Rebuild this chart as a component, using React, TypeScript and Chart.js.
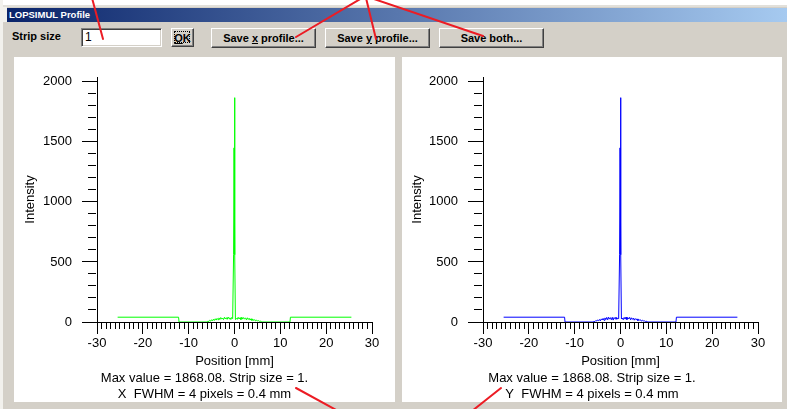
import React, { useEffect, useRef } from 'react';
import { Chart, registerables } from 'chart.js';

Chart.register(...registerables);

// Position along the strip, in mm (pixel size 0.1 mm)
const positionsMm = [
  -25.5, -12.2, -12.1,
  -6.0, -5.8, -5.6, -5.4, -5.2, -5.0, -4.8, -4.6, -4.4, -4.2, -4.0, -3.8, -3.6, -3.4, -3.2,
  -3.0, -2.8, -2.6, -2.4, -2.2, -2.0, -1.8, -1.6, -1.4, -1.2, -1.0, -0.8, -0.6, -0.4,
  -0.2, -0.1, 0.0, 0.1, 0.2,
  0.4, 0.6, 0.8, 1.0, 1.2, 1.4, 1.6, 1.8, 2.0, 2.2, 2.4, 2.6, 2.8, 3.0, 3.2,
  3.4, 3.6, 3.8, 4.0, 4.2, 4.4, 4.6, 4.8, 5.0, 5.2, 5.4, 5.6, 5.8, 6.0,
  12.1, 12.2, 25.5,
];

// X profile intensity
const xProfile = [
  40, 40, 0,
  0, 8, 4, 14, 7, 19, 10, 23, 13, 27, 16, 30, 19, 34, 21,
  37, 24, 33, 20, 39, 25, 36, 22, 41, 27, 35, 21, 38, 28,
  560, 1450, 1868, 560, 20,
  30, 22, 39, 25, 36, 20, 40, 24, 37, 26, 33, 18, 35, 21, 31,
  16, 27, 13, 24, 12, 20, 9, 16, 8, 12, 5, 8, 3, 0,
  0, 40, 40,
];

// Y profile intensity
const yProfile = [
  40, 40, 0,
  0, 6, 3, 12, 8, 17, 11, 21, 9, 26, 17, 30, 14, 34, 20,
  38, 18, 40, 24, 36, 19, 39, 16, 37, 26, 41, 22, 33, 28,
  560, 1450, 1868, 560, 25,
  33, 19, 38, 24, 41, 20, 36, 25, 39, 18, 35, 22, 32, 15, 29,
  19, 26, 11, 22, 13, 18, 7, 14, 9, 10, 4, 7, 2, 0,
  0, 40, 40,
];

const xAxisRange = [-30, 30];
const yAxisRange = [0, 2040];
const xMajorEvery = 10;
const yMajorEvery = 500;

const xInfo = ['Max value = 1868.08. Strip size = 1.', 'X  FWHM = 4 pixels = 0.4 mm'];
const yInfo = ['Max value = 1868.08. Strip size = 1.', 'Y  FWHM = 4 pixels = 0.4 mm'];

const FONT = "'Liberation Sans', Arial, sans-serif";

type ChartProps = {
  values: number[];
  color: string;
  info: string[];
  width: number;
  height: number;
  axisWidth: number;
  padRight: number;
  yTitlePad: number;
};

function ProfileChart({ values, color, info, width, height, axisWidth, padRight, yTitlePad }: ChartProps) {
  const ref = useRef<HTMLCanvasElement>(null);
  useEffect(() => {
    const font = { family: FONT, size: 13, weight: 'normal' as const };
    const chart = new Chart(ref.current!, {
      type: 'line',
      data: {
        datasets: [
          {
            data: positionsMm.map((x, i) => ({ x, y: values[i] })),
            borderColor: color,
            borderWidth: 1,
            pointRadius: 0,
            fill: false,
            tension: 0,
          },
        ],
      },
      options: {
        responsive: false,
        animation: false,
        events: [],
        layout: { padding: { left: 0, top: 20, right: 0, bottom: 0 } },
        plugins: {
          legend: { display: false },
          tooltip: { enabled: false },
          title: {
            display: true,
            position: 'bottom',
            text: info,
            color: '#000',
            font: { ...font, lineHeight: '16px' },
            padding: { top: 0, bottom: 0 },
          },
        },
        scales: {
          x: {
            type: 'linear',
            min: xAxisRange[0],
            max: xAxisRange[1],
            z: 1,
            border: { display: true, color: '#000', width: 1 },
            grid: {
              drawOnChartArea: false,
              drawTicks: true,
              tickLength: 12,
              tickColor: '#000',
              tickWidth: 1,
              tickBorderDash: (ctx: any) =>
                ctx.tick && Math.abs(ctx.tick.value) % xMajorEvery !== 0 ? [6, 100] : [],
            },
            ticks: {
              stepSize: 1,
              autoSkip: false,
              maxRotation: 0,
              minRotation: 0,
              padding: 2,
              color: '#000',
              font,
              callback: (v: any) => (Number(v) % xMajorEvery === 0 ? String(Number(v)) : ''),
            },
            title: {
              display: true,
              text: 'Position [mm]',
              color: '#000',
              font: { ...font, lineHeight: '16px' },
              padding: { top: 0, bottom: 1 },
            },
            afterFit: (s: any) => {
              s.height = 48;
            },
          },
          y: {
            type: 'linear',
            min: yAxisRange[0],
            max: yAxisRange[1],
            z: 1,
            border: { display: true, color: '#000', width: 1 },
            grid: {
              drawOnChartArea: false,
              drawTicks: true,
              tickLength: 15,
              tickColor: '#000',
              tickWidth: 1,
              tickBorderDash: (ctx: any) =>
                ctx.tick && ctx.tick.value % yMajorEvery !== 0 ? [8, 6] : [],
              tickBorderDashOffset: (ctx: any) =>
                ctx.tick && ctx.tick.value % yMajorEvery !== 0 ? 8 : 0,
            },
            ticks: {
              stepSize: 100,
              includeBounds: false,
              autoSkip: false,
              padding: 10,
              color: '#000',
              font,
              callback: (v: any) => (Number(v) % yMajorEvery === 0 ? String(Number(v)) : ''),
            },
            title: {
              display: true,
              text: 'Intensity',
              color: '#000',
              font,
              padding: { top: yTitlePad, bottom: 0 },
            },
            afterFit: (s: any) => {
              s.width = axisWidth;
            },
          },
          // empty right-hand spacer axis so the info lines stay centred on the panel
          spacer: {
            type: 'linear',
            position: 'right',
            display: true,
            min: yAxisRange[0],
            max: yAxisRange[1],
            grid: { display: false, drawTicks: false },
            border: { display: false },
            ticks: { display: false },
            title: { display: false },
            afterFit: (s: any) => {
              s.width = padRight;
            },
          },
        },
      },
    } as any);
    return () => chart.destroy();
  }, []);
  return <canvas ref={ref} width={width} height={height} style={{ display: 'block', width, height }} />;
}

const btn: React.CSSProperties = {
  position: 'absolute',
  top: 28,
  height: 20,
  boxSizing: 'border-box',
  background: '#D4D0C8',
  borderTop: '1px solid #fff',
  borderLeft: '1px solid #fff',
  borderRight: '1px solid #404040',
  borderBottom: '1px solid #404040',
  boxShadow: 'inset -1px -1px #808080',
  fontSize: 11,
  fontWeight: 'bold',
  color: '#000',
  display: 'flex',
  alignItems: 'center',
  justifyContent: 'center',
  whiteSpace: 'pre',
};

export default function App() {
  return (
    <div
      style={{
        position: 'fixed',
        left: 0,
        top: 0,
        width: 787,
        height: 409,
        background: '#D4D0C8',
        overflow: 'hidden',
        fontFamily: FONT,
      }}
    >
      <div style={{ position: 'absolute', left: 0, top: 0, width: 787, height: 5, background: '#fff' }} />
      <div style={{ position: 'absolute', left: 2, top: 5, width: 785, height: 2, background: '#E2E0DA' }} />
      <div style={{ position: 'absolute', left: 0, top: 0, width: 3, height: 409, background: '#F2F1ED' }} />
      <div style={{ position: 'absolute', left: 3, top: 7, width: 4, height: 15, background: '#F2F1ED' }} />
      <div
        style={{
          position: 'absolute',
          left: 7,
          top: 8,
          width: 780,
          height: 14,
          background: 'linear-gradient(to right, #0A246A, #A6CAF0)',
          color: '#fff',
          fontWeight: 'bold',
          fontSize: 9.5,
          lineHeight: '14px',
          paddingLeft: 2,
          boxSizing: 'border-box',
        }}
      >
        LOPSIMUL Profile
      </div>

      <div style={{ position: 'absolute', left: 12, top: 29, fontSize: 11, fontWeight: 'bold', lineHeight: '14px' }}>
        Strip size
      </div>
      <div
        style={{
          position: 'absolute',
          left: 81,
          top: 28,
          width: 81,
          height: 19,
          boxSizing: 'border-box',
          background: '#fff',
          borderTop: '1px solid #808080',
          borderLeft: '1px solid #808080',
          borderRight: '1px solid #fff',
          borderBottom: '1px solid #fff',
          boxShadow: 'inset 1px 1px #404040, inset -1px -1px #D4D0C8',
          fontSize: 12,
          lineHeight: '17px',
          paddingLeft: 3,
        }}
      >
        1
      </div>
      <div style={{ ...btn, left: 171, width: 23, height: 19 }}>
        <div style={{ position: 'absolute', left: 2, top: 2, right: 3, bottom: 3, border: '1px dotted #000' }} />
        <span>
          <u>O</u>K
        </span>
      </div>
      <div style={{ ...btn, left: 211, width: 105 }}>
        <span>
          Save <u>x</u> profile...
        </span>
      </div>
      <div style={{ ...btn, left: 325, width: 105 }}>
        <span>
          Save <u>y</u> profile...
        </span>
      </div>
      <div style={{ ...btn, left: 439, width: 105 }}>
        <span>Save both...</span>
      </div>

      <div style={{ position: 'absolute', left: 14, top: 57, width: 381, height: 345, background: '#fff' }}>
        <ProfileChart
          values={xProfile}
          color="#00FF00"
          info={xInfo}
          width={381}
          height={345}
          axisWidth={83}
          padRight={23}
          yTitlePad={9}
        />
      </div>
      <div style={{ position: 'absolute', left: 402, top: 57, width: 380, height: 345, background: '#fff' }}>
        <ProfileChart
          values={yProfile}
          color="#0000FF"
          info={yInfo}
          width={380}
          height={345}
          axisWidth={81}
          padRight={24}
          yTitlePad={8}
        />
      </div>

      <svg
        width={787}
        height={409}
        style={{ position: 'absolute', left: 0, top: 0, pointerEvents: 'none' }}
      >
        <g stroke="#EC1C24" strokeWidth={2} strokeLinecap="round">
          <line x1={92} y1={-2} x2={103} y2={39} />
          <line x1={362} y1={-2} x2={296} y2={37} />
          <line x1={366} y1={-2} x2={376} y2={39} />
          <line x1={371} y1={-2} x2={483} y2={36} />
          <line x1={296} y1={388} x2={338} y2={411} />
          <line x1={501} y1={388} x2={472} y2={411} />
        </g>
      </svg>
    </div>
  );
}
